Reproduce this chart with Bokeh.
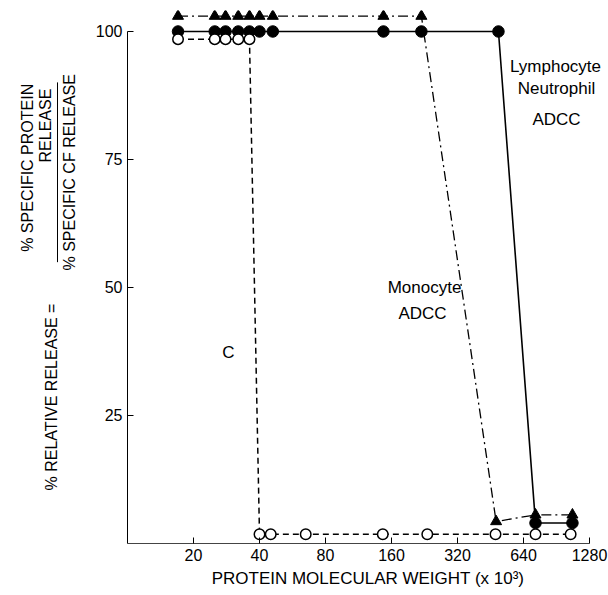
import math
from bokeh.plotting import figure
from bokeh.layouts import row
from bokeh.models import Range1d, FixedTicker, NumeralTickFormatter, Label
from bokeh.core.properties import value
from bokeh.embed import file_html
from bokeh.resources import INLINE

# ---- data ----
mw_lymph = [17, 25, 28, 32, 36, 40, 46, 147, 219, 492, 726, 1070]
rel_lymph = [100, 100, 100, 100, 100, 100, 100, 100, 100, 100, 4, 4]

mw_mono = [17, 25, 28, 32, 36, 40, 46, 147, 219, 480, 726, 1070]
rel_mono = [103, 103, 103, 103, 103, 103, 103, 103, 103, 4.3, 5.6, 5.6]

mw_c = [17, 25, 28, 32, 36, 40, 45, 65, 146, 233, 477, 726, 1050]
rel_c = [98.5, 98.5, 98.5, 98.5, 98.5, 1.8, 1.8, 1.8, 1.8, 1.8, 1.8, 1.8, 1.8]

x_ticks = [20, 40, 80, 160, 320, 640, 1280]
y_ticks = [25, 50, 75, 100]

ylabel_parts = ["% SPECIFIC PROTEIN", "RELEASE", "% SPECIFIC CF RELEASE", "% RELATIVE RELEASE ="]

FONT = "Liberation Sans"
H = 593
LEFT_W = 80
PX_PER_DOUBLING = 66.0
X_END = 10 * 2 ** ((608 - 127) / PX_PER_DOUBLING)

# ---- main chart ----
p = figure(width=608 - LEFT_W, height=H, x_axis_type="log",
           x_range=Range1d(10, X_END), y_range=Range1d(0, 104.1),
           output_backend="svg", toolbar_location=None,
           min_border_left=127 - LEFT_W, min_border_right=0,
           min_border_top=10, min_border_bottom=H - 543)
p.outline_line_color = None
p.xgrid.visible = False
p.ygrid.visible = False
p.background_fill_color = "white"
p.border_fill_color = "white"

p.xaxis.ticker = FixedTicker(ticks=x_ticks)
p.xaxis.formatter = NumeralTickFormatter(format="0")
p.xaxis.bounds = (10, 1280)
p.yaxis.ticker = FixedTicker(ticks=y_ticks)
p.yaxis.bounds = (0, 100)
for ax in (p.xaxis, p.yaxis):
    ax.major_tick_in = 6
    ax.major_tick_out = 0
    ax.minor_tick_line_color = None
    ax.axis_line_color = "black"
    ax.axis_line_width = 1
    ax.major_tick_line_color = "black"
    ax.major_label_text_font = FONT
    ax.major_label_text_font_size = "16px"
    ax.major_label_text_color = "black"
    ax.major_label_standoff = 5
p.xaxis.axis_line_color = "#444444"
p.xaxis.axis_label = "PROTEIN MOLECULAR WEIGHT (x 10\u00b3)"
p.xaxis.axis_label_text_font = FONT
p.xaxis.axis_label_text_font_size = "17px"
p.xaxis.axis_label_text_font_style = "normal"
p.xaxis.axis_label_text_color = "black"
p.xaxis.axis_label_standoff = 5

# series lines
p.line(mw_c, rel_c, line_color="black", line_width=1.5, line_dash="6 4")
p.line(mw_mono, rel_mono, line_color="black", line_width=1.3, line_dash="10 4 2 4")
p.line(mw_lymph, rel_lymph, line_color="black", line_width=1.6)

# markers
p.scatter(mw_mono, rel_mono, marker="triangle", size=11, fill_color="black", line_color="black")
p.scatter(mw_lymph, rel_lymph, marker="circle", size=11.5, fill_color="black", line_color="black")
p.scatter(mw_c, rel_c, marker="circle", size=10.5, fill_color="white", line_color="black", line_width=1.5)

def xd(px):
    return 10 * 2 ** ((px - 127) / PX_PER_DOUBLING)

def yd(py):
    return (543 - py) / (533 / 104.1)

def lab(px, py, text, size="17px"):
    p.add_layout(Label(x=xd(px), y=yd(py), text=text,
                       text_align="center", text_baseline="middle",
                       text_font=FONT, text_font_size=size, text_color="black"))

lab(555, 66, "Lymphocyte")
lab(556, 88, "Neutrophil")
lab(556, 119, "ADCC")
lab(424, 287, "Monocyte")
lab(422, 313, "ADCC")
lab(228, 352, "C")

# ---- left strip holding the composite y-axis title ----
left = figure(width=LEFT_W, height=H, x_range=Range1d(0, LEFT_W), y_range=Range1d(0, H),
              output_backend="svg", toolbar_location=None,
              x_axis_location=None, y_axis_location=None,
              min_border_left=0, min_border_right=0, min_border_top=0, min_border_bottom=0)
left.outline_line_color = None
left.grid.visible = False
left.border_fill_color = "white"
left.background_fill_color = "white"

lx = [27, 45, 69, 51]
ly = [H - 175, H - 128, H - 180, H - 430]
left.text(x=lx, y=ly, text=ylabel_parts, angle=math.pi / 2,
          text_align="center", text_baseline="middle",
          text_font=value(FONT), text_font_size="16px", text_color="black")
left.segment(x0=[57], y0=[H - 80], x1=[57], y1=[H - 280], line_color="black", line_width=1)

layout = row(left, p)
open("out.html", "w").write(file_html(layout, INLINE))
